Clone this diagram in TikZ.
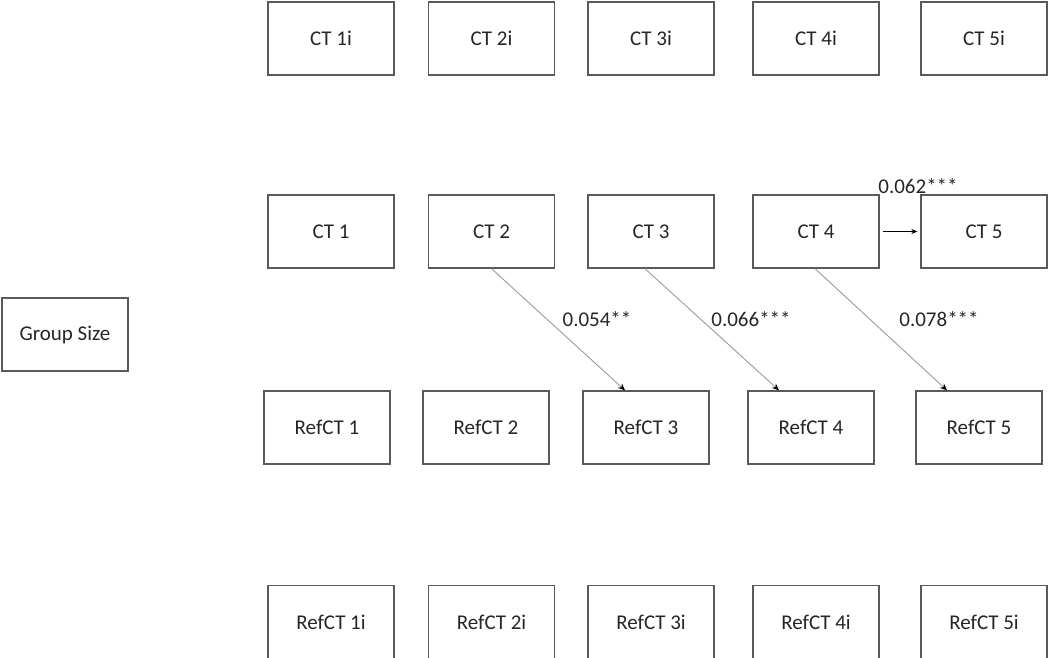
\documentclass[tikz,border=0pt]{standalone}
\usepackage{fontspec}
\setmainfont{Carlito}
\usetikzlibrary{arrows.meta}
\definecolor{boxline}{HTML}{5A5A5A}
\definecolor{txt}{HTML}{262626}
\definecolor{diag}{HTML}{9A9A9A}
\begin{document}
\begin{tikzpicture}[x=1pt,y=-1pt,
  box/.style={draw=boxline,line width=1.3pt,fill=white,minimum width=126pt,minimum height=73pt,inner sep=0pt,font=\fontsize{21}{24}\selectfont,text=txt},
  lbl/.style={font=\fontsize{21}{24}\selectfont,text=txt,inner sep=0pt},
  darrow/.style={draw=diag,line width=0.9pt,-{Stealth[length=7pt,width=6pt,color=black]}},
  harrow/.style={draw=black,line width=0.7pt,-{Stealth[length=6pt,width=5pt]}}]
\useasboundingbox (0,0) rectangle (1050,657);
% row 1
\node[box] (c1i) at (331,38.5) {CT 1i};
\node[box] (c2i) at (491.5,38.5) {CT 2i};
\node[box] (c3i) at (651,38.5) {CT 3i};
\node[box] (c4i) at (816,38.5) {CT 4i};
\node[box] (c5i) at (984,38.5) {CT 5i};
% row 2
\node[box] (c1) at (331,231.5) {CT 1};
\node[box] (c2) at (491.5,231.5) {CT 2};
\node[box] (c3) at (651,231.5) {CT 3};
\node[box] (c4) at (816,231.5) {CT 4};
\node[box] (c5) at (984,231.5) {CT 5};
% group size
\node[box] (gs) at (65,334.5) {Group Size};
% row 3
\node[box] (r1) at (327,427.5) {RefCT 1};
\node[box] (r2) at (486,427.5) {RefCT 2};
\node[box] (r3) at (646,427.5) {RefCT 3};
\node[box] (r4) at (811,427.5) {RefCT 4};
\node[box] (r5) at (979,427.5) {RefCT 5};
% row 4 (cut by the lower edge)
\node[box] (r1i) at (331,622) {RefCT 1i};
\node[box] (r2i) at (491.5,622) {RefCT 2i};
\node[box] (r3i) at (651,622) {RefCT 3i};
\node[box] (r4i) at (816,622) {RefCT 4i};
\node[box] (r5i) at (984,622) {RefCT 5i};
% arrows
\draw[darrow] (c2.south) -- ([xshift=-21pt]r3.north);
\draw[darrow] ([xshift=-6pt]c3.south) -- ([xshift=-32pt]r4.north);
\draw[darrow] ([xshift=-1pt]c4.south) -- ([xshift=-32pt]r5.north);
\draw[harrow] ([xshift=3pt]c4.east) -- ([xshift=-3pt]c5.west);
% labels
\node[lbl] (l1) at (597,319) {0.054**};
\node[lbl] (l2) at (751,319) {0.066***};
\node[lbl] (l3) at (939,319) {0.078***};
\node[lbl] (l4) at (918,186) {0.062***};
\end{tikzpicture}
\end{document}
